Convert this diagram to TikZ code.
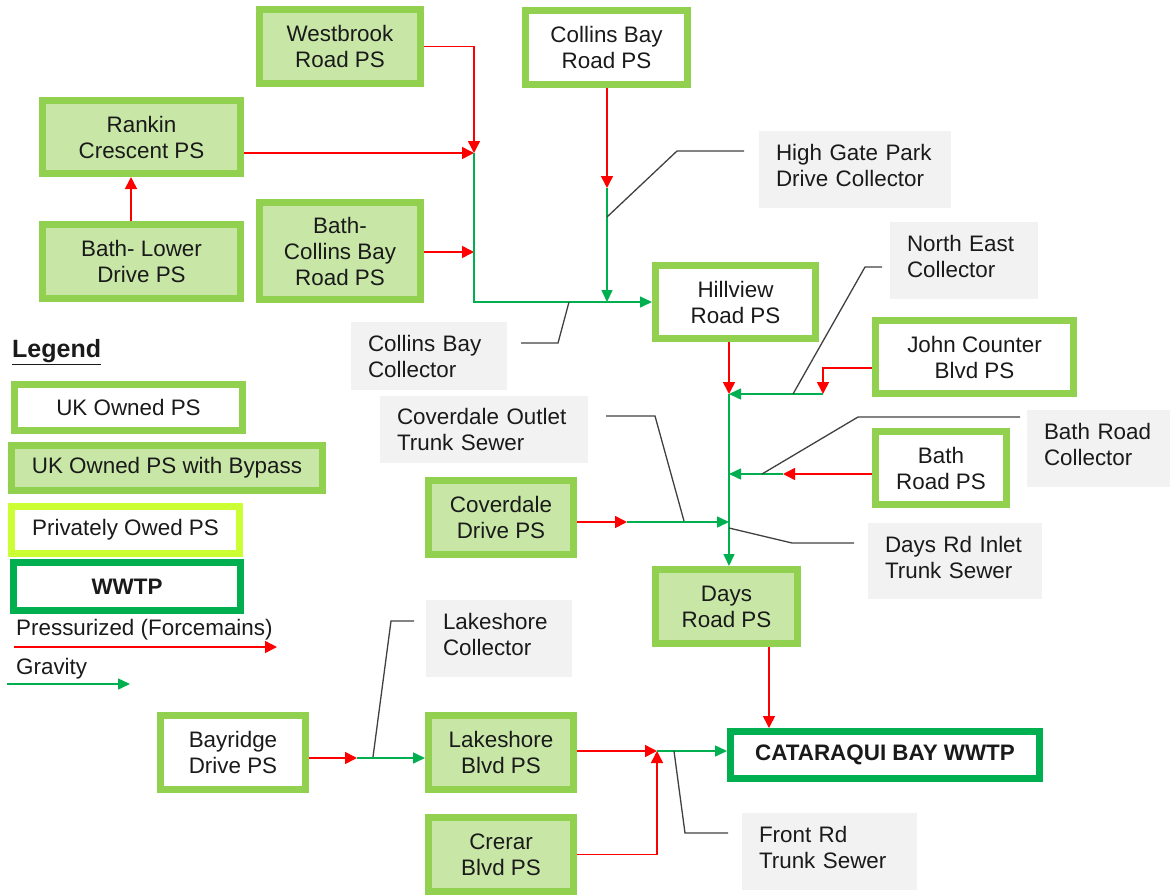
\documentclass[tikz,border=0pt]{standalone}
\usepackage{fontspec}
\setmainfont{Liberation Sans}
\usetikzlibrary{arrows.meta}
\definecolor{ukg}{HTML}{92D050}
\definecolor{ukfill}{HTML}{C8E7A7}
\definecolor{privg}{HTML}{CCFF33}
\definecolor{wwg}{HTML}{00B050}
\definecolor{pred}{HTML}{FF0000}
\definecolor{grav}{HTML}{00B050}
\definecolor{lblfill}{HTML}{F2F2F2}
\definecolor{leadc}{HTML}{404040}
\definecolor{txt}{HTML}{1A1A1A}
\begin{document}
\begin{tikzpicture}[x=1pt,y=-1pt,
  every node/.style={font=\fontsize{22.4}{26}\selectfont, text=txt},
  psbox/.style={draw=ukg, line width=7pt, fill=white, align=center, inner sep=0pt},
  bypass/.style={psbox, fill=ukfill},
  privbox/.style={psbox, draw=privg},
  wwbox/.style={psbox, draw=wwg, font=\fontsize{22.4}{26}\selectfont\bfseries},
  lbl/.style={fill=lblfill, draw=none, align=left, inner xsep=17pt, inner ysep=0pt},
  lblup/.style={lbl, execute at end node={\rule[-8pt]{0pt}{8pt}}},
  fm/.style={draw=pred, line width=1.5pt, -{Triangle[length=12pt,width=12pt]}},
  fmline/.style={draw=pred, line width=1.5pt},
  gv/.style={draw=grav, line width=1.5pt, -{Triangle[length=12pt,width=11pt]}},
  gvline/.style={draw=grav, line width=1.5pt},
  leader/.style={draw=leadc, line width=1.3pt}
]
\useasboundingbox (0,0) rectangle (1170,895);

% ---------- pump stations ----------
\node[bypass, minimum width=161pt, minimum height=74pt] (westbrook) at (340,46.5) {Westbrook\\Road PS};
\node[psbox, minimum width=162pt, minimum height=74pt] (collinsbay) at (606.5,47.5) {Collins Bay\\Road PS};
\node[bypass, minimum width=198pt, minimum height=73pt] (rankin) at (141.5,137) {Rankin\\Crescent PS};
\node[bypass, minimum width=198pt, minimum height=74pt] (bathlower) at (141.5,261.5) {Bath- Lower\\Drive PS};
\node[bypass, minimum width=161pt, minimum height=97pt] (bathcb) at (340,251) {Bath-\\Collins Bay\\Road PS};
\node[psbox, minimum width=160pt, minimum height=73pt] (hillview) at (735.5,302) {Hillview\\Road PS};
\node[psbox, minimum width=198pt, minimum height=73pt] (johncounter) at (974.5,357) {John Counter\\Blvd PS};
\node[psbox, minimum width=131pt, minimum height=73pt] (bathroad) at (941,468) {Bath\\Road PS};
\node[bypass, minimum width=145pt, minimum height=74pt] (coverdale) at (501,517.5) {Coverdale\\Drive PS};
\node[bypass, minimum width=142pt, minimum height=74pt] (days) at (726.5,606.5) {Days\\Road PS};
\node[wwbox, minimum width=309pt, minimum height=47pt] (wwtp) at (885,755) {CATARAQUI BAY WWTP};
\node[psbox, minimum width=145pt, minimum height=74pt] (bayridge) at (233,752.5) {Bayridge\\Drive PS};
\node[bypass, minimum width=145pt, minimum height=74pt] (lakeshore) at (501,752.5) {Lakeshore\\Blvd PS};
\node[bypass, minimum width=145pt, minimum height=74pt] (crerar) at (501,854.5) {Crerar\\Blvd PS};

% ---------- collector labels ----------
\node[lblup, text width=158pt, minimum height=77pt] (highgate) at (855,169.5) {High Gate Park\\Drive Collector};
\node[lblup, text width=114pt, minimum height=77pt] (northeast) at (964,260.5) {North East\\Collector};
\node[lbl, text width=122pt, minimum height=68pt] (cbcoll) at (429,356) {Collins Bay\\Collector};
\node[lbl, text width=174pt, minimum height=67pt] (covout) at (484,429.5) {Coverdale Outlet\\Trunk Sewer};
\node[lblup, text width=109pt, minimum height=77pt] (bathcoll) at (1098.5,448.5) {Bath Road\\Collector};
\node[lblup, text width=140pt, minimum height=76pt] (daysinlet) at (955,561) {Days Rd Inlet\\Trunk Sewer};
\node[lblup, text width=112pt, minimum height=77pt] (lakecoll) at (499,638.5) {Lakeshore\\Collector};
\node[lblup, text width=141pt, minimum height=77pt] (frontrd) at (829.5,851.5) {Front Rd\\Trunk Sewer};

% ---------- legend ----------
\node[anchor=base west, inner sep=0pt, font=\fontsize{25}{28}\selectfont\bfseries] (legendtitle) at (12,357) {\underline{Legend}};
\node[psbox, minimum width=228pt, minimum height=46pt] (lg1) at (128.5,407.5) {UK Owned PS};
\node[bypass, minimum width=311pt, minimum height=45pt] (lg2) at (167,468) {UK Owned PS with Bypass};
\node[privbox, minimum width=228pt, minimum height=47pt] (lg3) at (125.5,530) {Privately Owed PS};
\node[wwbox, minimum width=227pt, minimum height=48pt] (lg4) at (127,586.5) {WWTP};
\node[anchor=base west, inner sep=0pt] (lgfmtext) at (16,635) {Pressurized (Forcemains)};
\node[anchor=base west, inner sep=0pt] (lggvtext) at (16,674) {Gravity};
\coordinate (lgfmA) at (14,647);
\coordinate (lgfmB) at (277,647);
\coordinate (lggvA) at (7,684);
\coordinate (lggvB) at (130,684);
\draw[fm] (lgfmA) -- (lgfmB);
\draw[gv] (lggvA) -- (lggvB);

% ---------- junctions ----------
\coordinate (J1) at (474,153);
\coordinate (J2) at (474,252);
\coordinate (J3) at (607,188);
\coordinate (BL) at (131,200);
\coordinate (T1) at (729,394);
\coordinate (JC1) at (823,368);
\coordinate (JC2) at (823,394);
\coordinate (BR1) at (783,474);
\coordinate (T2) at (729,474);
\coordinate (CD1) at (627,522);
\coordinate (T3) at (729,522);
\coordinate (DW) at (769,647);
\coordinate (L1) at (657,751);
\coordinate (B1) at (357,758);

% ---------- forcemains ----------
\draw[fm] (westbrook.east) -| (J1);
\draw[fm] (rankin.east |- J1) -- (J1);
\draw[fm] (bathlower.north -| BL) -- (rankin.south -| BL);
\draw[fm] (bathcb.east |- J2) -- (J2);
\draw[fm] (collinsbay.south -| J3) -- (J3);
\draw[fm] (hillview.south -| T1) -- (T1);
\draw[fm] (johncounter.west |- JC1) -- (JC1) -- (JC2);
\draw[fm] (bathroad.west |- BR1) -- (BR1);
\draw[fm] (coverdale.east |- CD1) -- (CD1);
\draw[fm] (days.south -| DW) -- (DW |- wwtp.north);
\draw[fm] (lakeshore.east |- L1) -- (L1);
\draw[fm] (crerar.east) -| (L1);
\draw[fm] (bayridge.east |- B1) -- (B1);

% ---------- gravity ----------
\draw[gv] (J1) |- (hillview.west);
\draw[gv] (J3) -- (J3 |- hillview.west);
\draw[gvline] (T1) -- (T3);
\draw[gv] (T3) -- (T3 |- days.north);
\draw[gv] (JC2) -- (T1);
\draw[gv] (BR1) -- (T2);
\draw[gv] (CD1) -- (T3);
\draw[gv] (L1) -- (L1 -| wwtp.west);
\draw[gv] (B1) -- (B1 -| lakeshore.west);

% ---------- leader lines ----------
\coordinate (hgA) at (744,151);
\coordinate (hgB) at (677,151);
\coordinate (hgC) at (607,217);
\draw[leader] (hgA) -- (hgB) -- (hgC);
\coordinate (neA) at (882,267);
\coordinate (neB) at (865,267);
\coordinate (neC) at (793,394);
\draw[leader] (neA) -- (neB) -- (neC);
\coordinate (cbA) at (521,343);
\coordinate (cbB) at (558,343);
\coordinate (cbC) at (569,302);
\draw[leader] (cbA) -- (cbB) -- (cbC);
\coordinate (coA) at (606,416);
\coordinate (coB) at (655,416);
\coordinate (coC) at (684,521);
\draw[leader] (coA) -- (coB) -- (coC);
\coordinate (brA) at (1020,417);
\coordinate (brB) at (858,417);
\coordinate (brC) at (762,474);
\draw[leader] (brA) -- (brB) -- (brC);
\coordinate (diA) at (729,528);
\coordinate (diB) at (792,543);
\coordinate (diC) at (854,543);
\draw[leader] (diA) -- (diB) -- (diC);
\coordinate (lcA) at (414,621);
\coordinate (lcB) at (391,621);
\coordinate (lcC) at (373,757);
\draw[leader] (lcA) -- (lcB) -- (lcC);
\coordinate (frA) at (674,751);
\coordinate (frB) at (685,833);
\coordinate (frC) at (728,833);
\draw[leader] (frA) -- (frB) -- (frC);
\end{tikzpicture}
\end{document}
